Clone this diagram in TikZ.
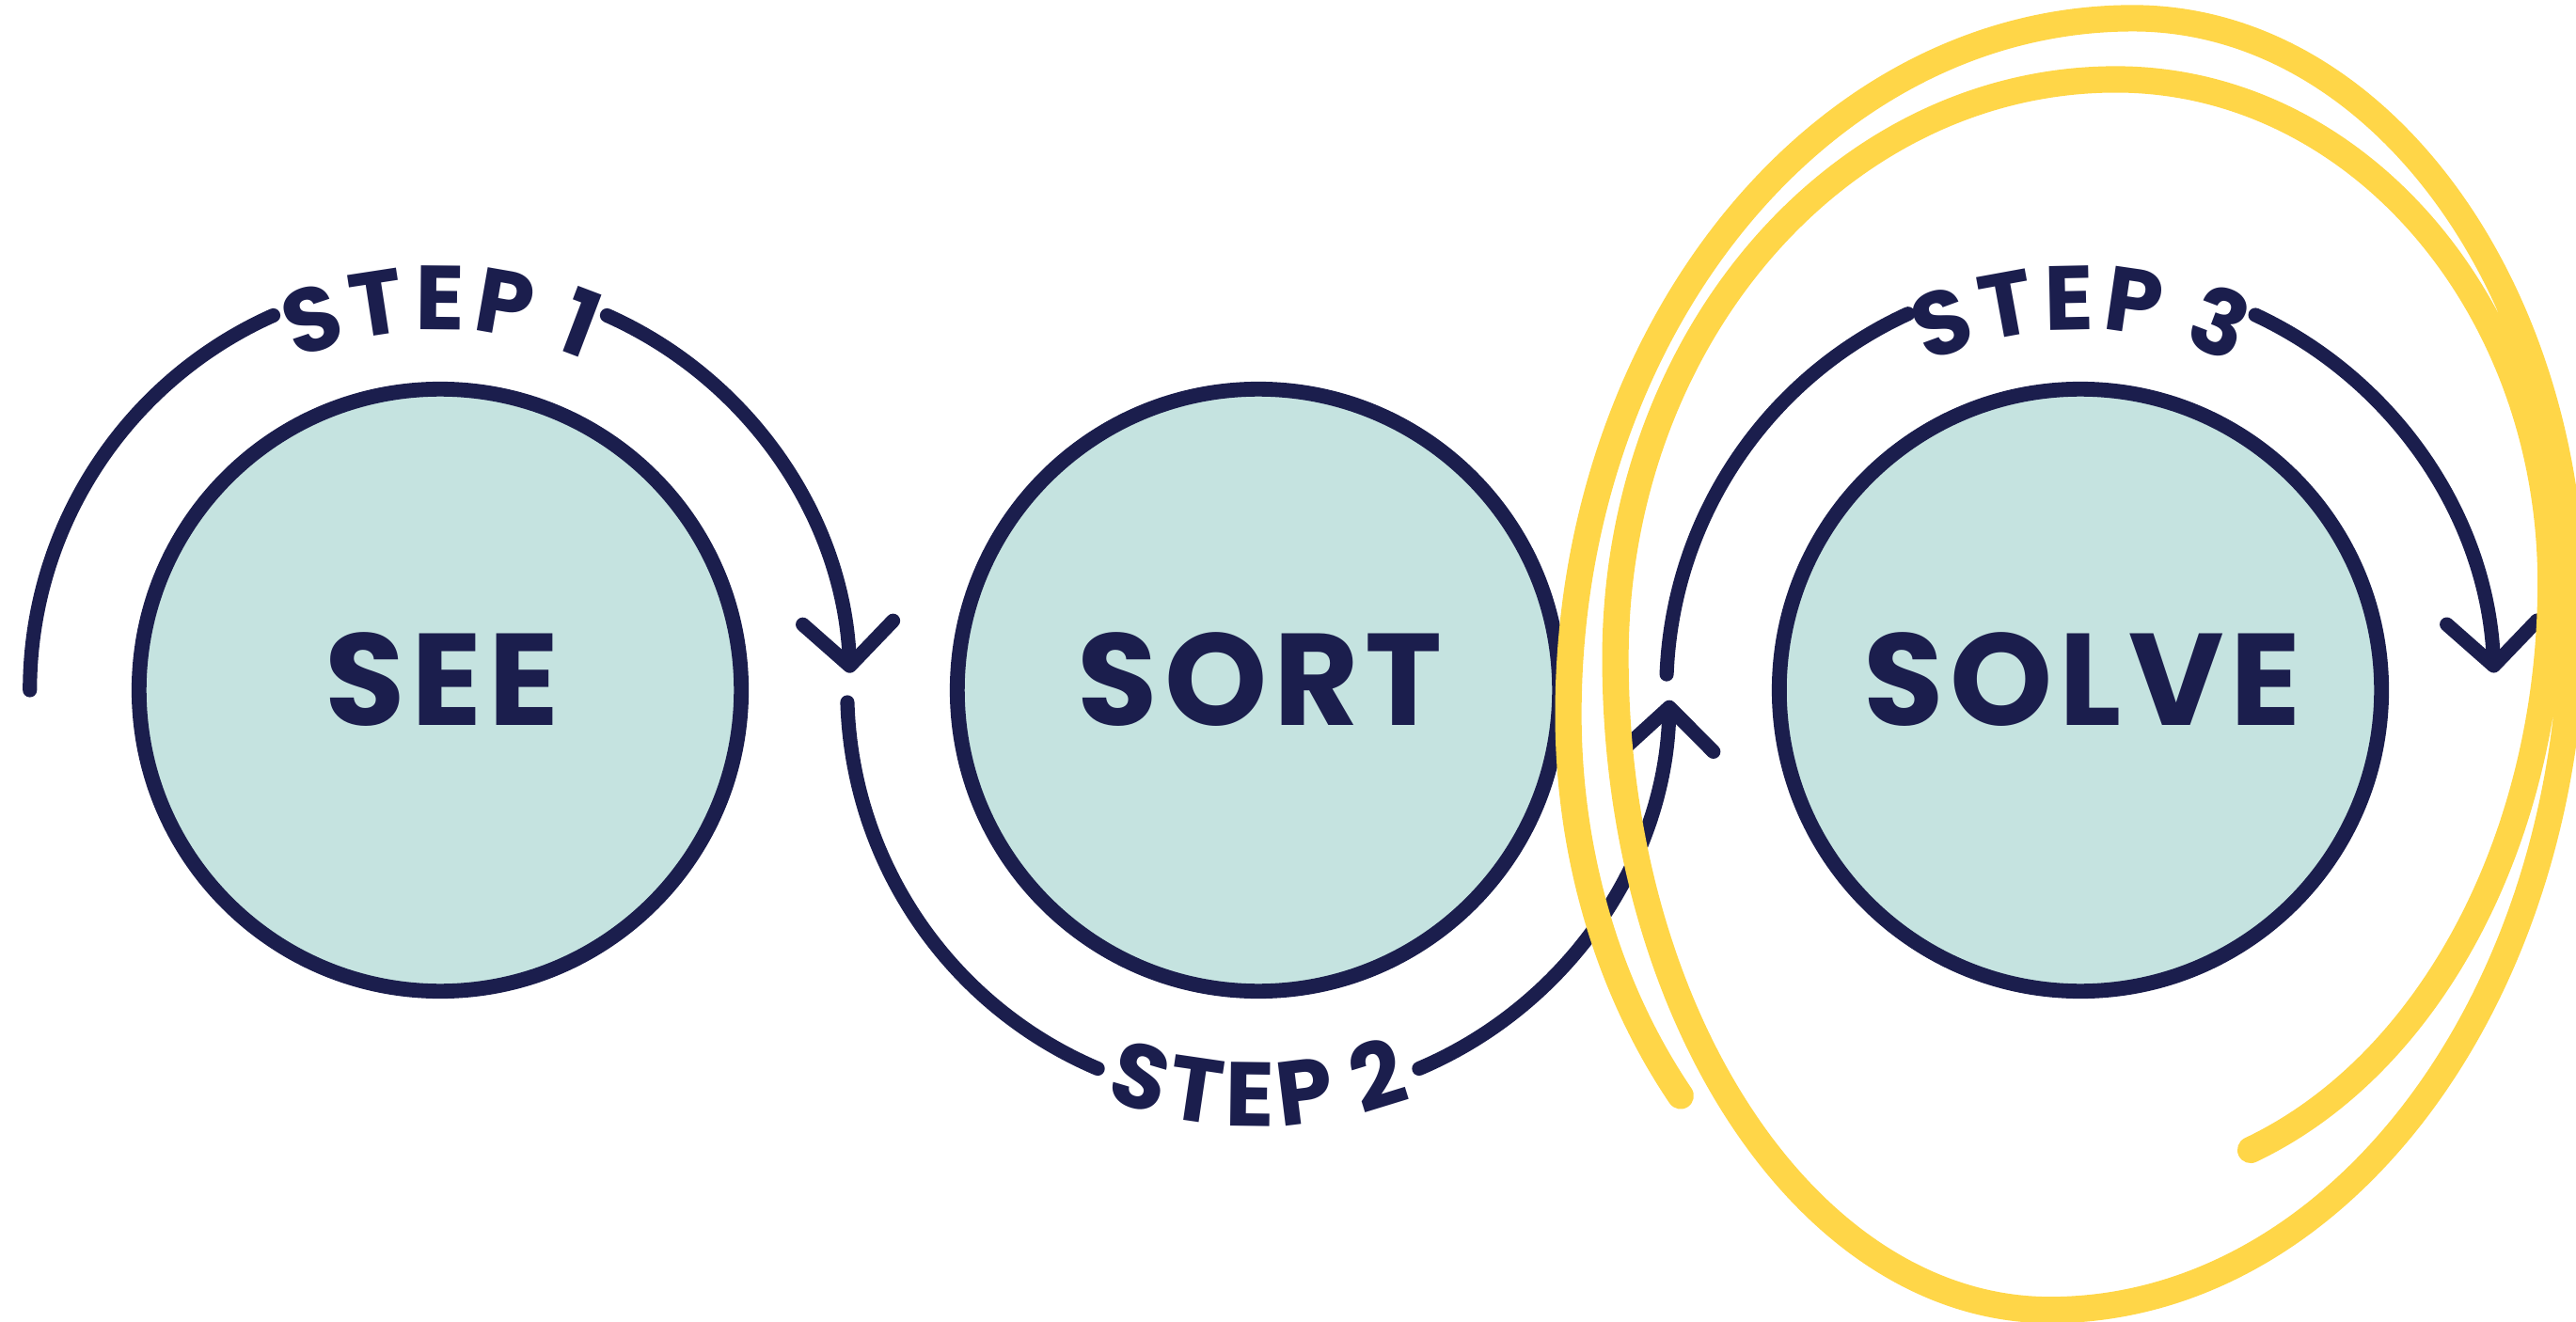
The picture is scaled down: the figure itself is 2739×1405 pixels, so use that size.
\documentclass[tikz,border=0pt]{standalone}
\usepackage{fontspec}
\setmainfont{Poppins}
\usetikzlibrary{arrows.meta,decorations.text}
\definecolor{navy}{HTML}{1B1E4D}
\definecolor{bubblefill}{HTML}{C5E3E0}
\definecolor{hilite}{HTML}{FFD648}
\newcommand\steplabelfont{\bfseries\fontsize{27.5}{32}\selectfont}
\tikzset{
  bubble/.style={circle, draw=navy, fill=bubblefill, line width=4.5pt, minimum size=6.4cm, inner sep=0pt},
  bigword/.style={text=navy, inner sep=0pt, font=\bfseries\fontsize{39.5}{40}\selectfont\addfontfeatures{LetterSpace=5}},
  cyc/.style={draw=navy, line width=4.3pt, line cap=round},
  cyctip/.style={cyc, -{Straight Barb[length=4.6mm,width=9.6mm,round]}},
  scribble/.style={draw=hilite, line width=8pt, line cap=round, line join=round},
}
\begin{document}
\begin{tikzpicture}[x=0.01cm, y=0.01cm]
\useasboundingbox (0,0) rectangle (2739,1405);

% bubbles
\node[bubble] (see) at (468,671) {};
\node[bubble] (sort) at (1338,671) {};
\node[bubble] (solve) at (2212,671) {};
\node[bigword] (seeT) at (470,682) {SEE};
\node[bigword] (sortT) at (1340,682) {SORT};
\node[bigword] (solveT) at (2214,682) {SOLVE};

% step 1
\draw[cyc] (see.center) ++(180:4.36cm) arc[start angle=180, end angle=114, radius=4.36cm];
\draw[cyctip] (see.center) ++(66:4.36cm) arc[start angle=66, end angle=2.4, radius=4.36cm];
\path[decorate, decoration={text along path, text align=center, text color=navy,
  text={|\steplabelfont|{S\kern2pt}{T\kern2pt}{E\kern2pt}{P\kern2pt} 1}}]
  (see.center) ++(135:3.83cm) arc[start angle=135, end angle=45, radius=3.83cm];

% step 2
\draw[cyc] (sort.center) ++(181.7:4.37cm) arc[start angle=181.7, end angle=247, radius=4.37cm];
\draw[cyctip] (sort.center) ++(293:4.37cm) arc[start angle=293, end angle=358.6, radius=4.37cm];
\path[decorate, decoration={text along path, text align=center, text color=navy,
  text={|\steplabelfont|{S\kern2pt}{T\kern2pt}{E\kern2pt}{P\kern2pt} 2}}]
  (sort.center) ++(225:4.64cm) arc[start angle=225, end angle=315, radius=4.64cm];

% step 3
\draw[cyc] (solve.center) ++(177.8:4.4cm) arc[start angle=177.8, end angle=114.6, radius=4.4cm];
\draw[cyctip] (solve.center) ++(65:4.4cm) arc[start angle=65, end angle=2.4, radius=4.4cm];
\path[decorate, decoration={text along path, text align=center, text color=navy,
  text={|\steplabelfont|{S\kern2pt}{T\kern2pt}{E\kern2pt}{P\kern2pt} 3}}]
  (solve.center) ++(135:3.83cm) arc[start angle=135, end angle=45, radius=3.83cm];

% yellow highlight scribble: a two-turn spiral built from elliptic quarter arcs
\coordinate (scribbletail) at (2393,182);
\draw[scribble] (scribbletail)
  arc[start angle=-70.4, end angle=0,   x radius=4.8cm,  y radius=6.4cm]
  arc[start angle=0,     end angle=90,  x radius=4.62cm, y radius=5.35cm]
  arc[start angle=90,    end angle=180, x radius=5.32cm, y radius=6.15cm]
  arc[start angle=180,   end angle=270, x radius=4.62cm, y radius=6.93cm]
  arc[start angle=270,   end angle=360, x radius=5.55cm, y radius=7.43cm]
  arc[start angle=0,     end angle=90,  x radius=4.67cm, y radius=6.3cm]
  arc[start angle=90,    end angle=180, x radius=6.0cm,  y radius=7.4cm]
  arc[start angle=180,   end angle=219.9, x radius=5.12cm, y radius=6.32cm];
\end{tikzpicture}
\end{document}
